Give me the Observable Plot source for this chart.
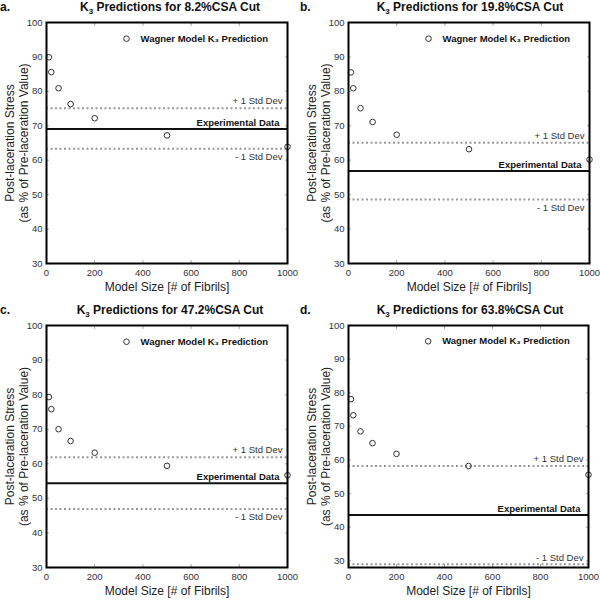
<!DOCTYPE html>
<html><head><meta charset="utf-8">
<script src="https://cdn.jsdelivr.net/npm/d3@7"></script>
<script src="https://cdn.jsdelivr.net/npm/@observablehq/plot@0.6"></script>
<style>
body{margin:0;background:#fff;font-family:"Liberation Sans",Arial,sans-serif;}
#root{position:relative;width:600px;height:600px;overflow:hidden;}
.panel{position:absolute;width:300px;height:300px;}
.lab{position:absolute;left:0;font-weight:bold;font-size:12px;line-height:14px;color:#111;}
.title{position:absolute;left:40px;width:260px;font-weight:bold;font-size:12px;line-height:14px;text-align:center;white-space:nowrap;color:#111;}
.title sub{font-size:8px;vertical-align:-3px;line-height:0;}
.panel svg{position:absolute;left:0;}
</style></head><body><div id="root"></div>
<script>
// ---- data ----
const modelSizes = [10, 20, 50, 100, 200, 500, 1000];
const predA = [89.9, 85.6, 80.9, 76.3, 72.2, 67.2, 63.9];
const predB = [85.5, 80.9, 75.1, 71.1, 67.4, 63.2, 60.2];
const predC = [79.3, 75.8, 70.0, 66.6, 63.2, 59.4, 56.7];
const predD = [78.1, 73.3, 68.5, 65.0, 61.8, 58.2, 55.6];
const panelLabels = ["a.", "b.", "c.", "d."];
const cutLabels = ["8.2%CSA Cut", "19.8%CSA Cut", "47.2%CSA Cut", "63.8%CSA Cut"];
const expMean = [69.1, 56.9, 54.4, 43.6];
const stdUpper = [75.1, 65.1, 61.9, 58.2];
const stdLower = [63.3, 48.6, 46.9, 29.0];
const yMins = [30, 30, 30, 28];
const xTicks = [0, 200, 400, 600, 800, 1000];
const yTicks = [30, 40, 50, 60, 70, 80, 90, 100];
const legendEntry = [{size: 332, value: 95.3, label: "Wagner Model K\u2083 Prediction"}];
const preds = [predA, predB, predC, predD];

const root = document.getElementById("root");
const layout = [
  {left: 0, top: 0, mL: 46, mR: 13, svgTop: 16, mB: 37},
  {left: 300, top: 0, mL: 48, mR: 11, svgTop: 16, mB: 37},
  {left: 0, top: 300, mL: 46, mR: 13, svgTop: 19, mB: 36},
  {left: 300, top: 300, mL: 48, mR: 12, svgTop: 19, mB: 36}
];

preds.forEach((pred, i) => {
  const L = layout[i];
  const panel = document.createElement("div");
  panel.className = "panel";
  panel.style.left = L.left + "px";
  panel.style.top = L.top + "px";
  const lab = document.createElement("div");
  lab.className = "lab";
  lab.style.top = (L.svgTop - 16) + "px";
  lab.textContent = panelLabels[i];
  const title = document.createElement("div");
  title.className = "title";
  title.style.top = (L.svgTop - 16) + "px";
  title.innerHTML = "K<sub>3</sub> Predictions for " + cutLabels[i];
  panel.appendChild(lab);
  panel.appendChild(title);

  const pts = modelSizes.map((s, j) => ({size: s, value: pred[j]}));
  const lowerBelow = i !== 3;

  const chart = Plot.plot({
    width: 300,
    height: 284,
    marginTop: 6,
    marginBottom: L.mB,
    marginLeft: L.mL,
    marginRight: L.mR,
    style: {fontFamily: "'Liberation Sans', Arial, sans-serif", fontSize: "9.5px", color: "#333", background: "white", overflow: "visible"},
    x: {domain: [0, 1000], axis: null},
    y: {domain: [yMins[i], 100], axis: null},
    marks: [
      // inward ticks on all four sides
      Plot.axisX(xTicks, {anchor: "bottom", tickSize: -3, tickFormat: () => "", stroke: "#aaa", label: null}),
      Plot.axisX(xTicks, {anchor: "top", tickSize: -3, tickFormat: () => "", stroke: "#aaa", label: null}),
      Plot.axisY(yTicks, {anchor: "left", tickSize: -3, tickFormat: () => "", stroke: "#aaa", label: null}),
      Plot.axisY(yTicks, {anchor: "right", tickSize: -3, tickFormat: () => "", stroke: "#aaa", label: null}),
      // tick labels
      Plot.axisX(xTicks, {anchor: "bottom", tickSize: 0, tickPadding: 6, tickFormat: d => String(d), fill: "#333", label: null}),
      Plot.axisY(yTicks, {anchor: "left", tickSize: 0, tickPadding: 4, tickFormat: d => String(d), fill: "#333", label: null}),
      // reference lines
      Plot.ruleY([stdUpper[i], stdLower[i]], {stroke: "#999", strokeWidth: 2, strokeDasharray: "2,2.5"}),
      Plot.ruleY([expMean[i]], {stroke: "#111", strokeWidth: 2}),
      Plot.text([stdUpper[i]], {x: () => 1000, y: d => d, text: () => "+ 1 Std Dev", textAnchor: "end", dx: -5, dy: -7, fill: "#333", fontSize: 9.5}),
      Plot.text([expMean[i]], {x: () => 1000, y: d => d, text: () => "Experimental Data", textAnchor: "end", dx: -8, dy: -6, fill: "#111", fontSize: 9.5, fontWeight: "bold"}),
      Plot.text([stdLower[i]], {x: () => 1000, y: d => d, text: () => "- 1 Std Dev", textAnchor: "end", dx: -5, dy: lowerBelow ? 8 : -6, fill: "#333", fontSize: 9.5}),
      // model predictions
      Plot.dot(pts, {x: "size", y: "value", r: 2.8, stroke: "#333", strokeWidth: 1, fill: "none"}),
      // legend
      Plot.dot(legendEntry, {x: "size", y: "value", r: 2.8, stroke: "#333", strokeWidth: 1, fill: "none"}),
      Plot.text(legendEntry, {x: "size", y: "value", text: "label", textAnchor: "start", dx: 14, fill: "#111", fontSize: 9.5, fontWeight: "bold"}),
      // axis titles
      Plot.text(["Post-laceration Stress\n(as % of Pre-laceration Value)"], {frameAnchor: "left", textAnchor: "middle", lineAnchor: "middle", rotate: -90, dx: -30, text: d => d, fontSize: 12, fill: "#222", lineHeight: 1.2}),
      Plot.text(["Model Size [# of Fibrils]"], {frameAnchor: "bottom", dy: 27, text: d => d, fontSize: 12, fill: "#222"}),
      Plot.frame({stroke: "#000", strokeWidth: 2})
    ]
  });
  chart.style.top = L.svgTop + "px";
  panel.appendChild(chart);
  root.appendChild(panel);
});
</script>
</body></html>
